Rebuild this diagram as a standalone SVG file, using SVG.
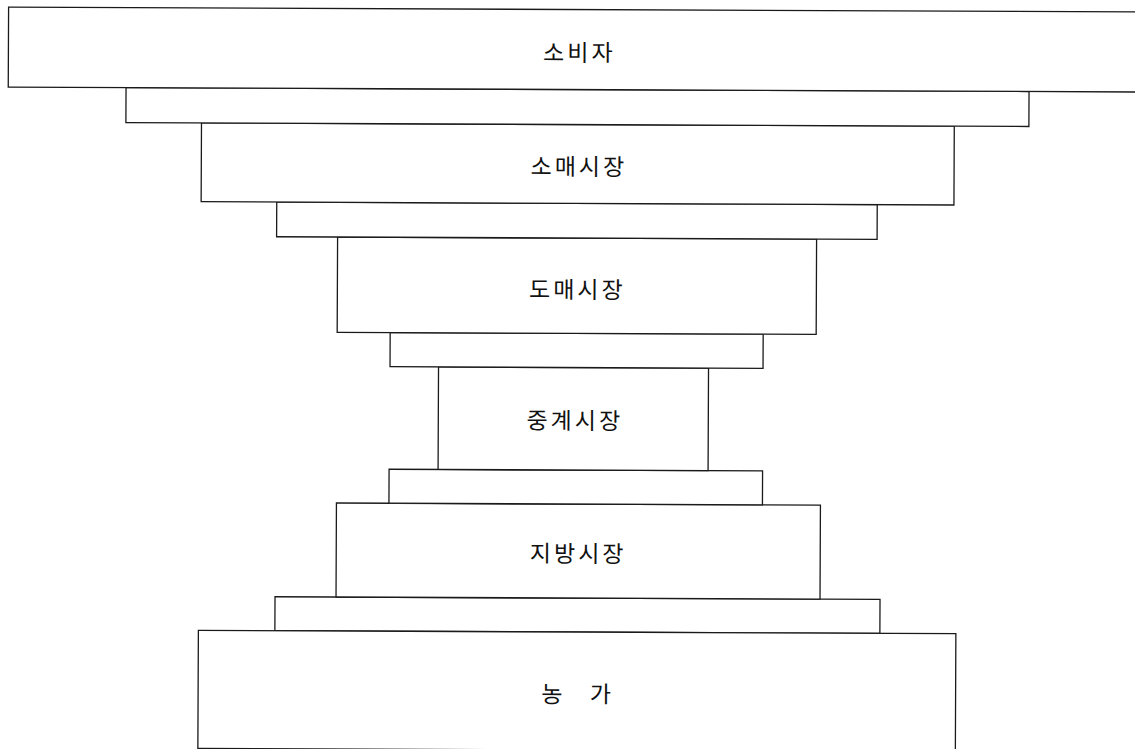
<svg xmlns="http://www.w3.org/2000/svg" width="1135" height="749" viewBox="0 0 1135 749">
<style>
.box{fill:#fff;stroke:#1a1a1a;stroke-width:1.3}
.lbl{font-family:"Noto Sans CJK KR","Noto Sans",sans-serif;font-size:23px;letter-spacing:3px;fill:#111;text-anchor:middle}
</style>
<rect width="1135" height="749" fill="#fff"/>
<g transform="rotate(0.25 567 374)">
<g id="connectors"></g>
<g id="strip5"><rect class="box" x="276" y="598" width="605" height="34"/></g>
<g id="node-farm"><rect class="box" x="199.5" y="632" width="757.5" height="118"/><text class="lbl" x="579" y="702.5" xml:space="preserve">농   가</text></g>
<g id="node-local"><rect class="box" x="337" y="504" width="484" height="94"/><text class="lbl" x="579" y="562">지방시장</text></g>
<g id="strip4"><rect class="box" x="389.5" y="470" width="373.5" height="34"/></g>
<g id="node-relay"><rect class="box" x="438.5" y="367.5" width="270" height="102.5"/><text class="lbl" x="575" y="429">중계시장</text></g>
<g id="strip3"><rect class="box" x="390" y="333.3" width="373" height="34.2"/></g>
<g id="node-wholesale"><rect class="box" x="337" y="238" width="479" height="95.3"/><text class="lbl" x="577" y="298">도매시장</text></g>
<g id="strip2"><rect class="box" x="276" y="203.3" width="600.5" height="34.7"/></g>
<g id="node-retail"><rect class="box" x="200.4" y="124.5" width="752.8" height="78.8"/><text class="lbl" x="578" y="175">소매시장</text></g>
<g id="strip1"><rect class="box" x="124.8" y="89.5" width="903" height="35"/></g>
<g id="node-consumer"><rect class="box" x="7" y="9.5" width="1140" height="80"/><text class="lbl" x="578" y="61">소비자</text></g>
</g>
</svg>
